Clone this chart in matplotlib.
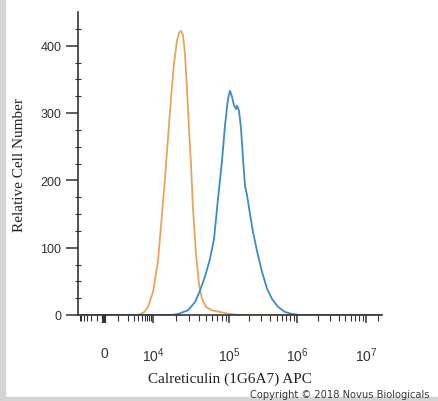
import matplotlib
matplotlib.use("Agg")
import matplotlib.pyplot as plt
from matplotlib.patches import Rectangle
import numpy as np

# histogram traces (fluorescence, cell count)
orange_x = [-4000, 3940, 5730, 7350, 10000, 11640, 13140, 14380, 15750, 17250,
            18890, 20690, 21990, 23360, 24820, 26370, 28020, 29770, 31620,
            33600, 36800, 40300, 44130, 49820, 59750, 76130, 103400, 145100,
            1.7e7]
orange_y = [0, 0, 4, 12, 34, 80, 150, 202, 262, 321,
            373, 407, 419, 422, 416, 388, 336, 277, 225,
            158, 91, 46, 24, 12, 7, 4.5, 1.5, 0,
            0]

blue_x = [-4000, 17780, 21330, 28910, 35700, 41500, 48300, 56200, 63500, 71600,
          80900, 88500, 97000, 103400, 110700, 118500, 126800, 131200, 140400,
          150200, 160600, 171800, 184000, 203700, 225600, 258200, 305800,
          362200, 428700, 525700, 666800, 843300, 1.105e6, 1.7e7]
blue_y = [0, 0, 1.5, 7, 19, 36, 57, 83, 113, 172,
          229, 281, 321, 333, 324, 311, 306, 311, 303,
          277, 232, 192, 178, 150, 123, 95, 64,
          39, 24, 12, 4.5, 1.5, 0, 0]

x_major = [0, 1e4, 1e5, 1e6, 1e7]
x_major_labels = ["0", "$10^{4}$", "$10^{5}$", "$10^{6}$", "$10^{7}$"]
y_major = [0, 100, 200, 300, 400]

# biexponential-like display axis
W = 1000.0
anchor_vals = np.array([-1e6, -4000, 0, 1e4, 1e5, 1e6, 1e7, 1.7e7, 1e9])
anchor_pos = np.array([-120, -26, 0, 49, 125, 193, 262, 278, 400])
anchor_a = np.arcsinh(anchor_vals / W)


def forward(x):
    return np.interp(np.arcsinh(np.asarray(x, dtype=float) / W), anchor_a, anchor_pos)


def inverse(p):
    return W * np.sinh(np.interp(np.asarray(p, dtype=float), anchor_pos, anchor_a))


plt.rcParams["mathtext.fontset"] = "custom"
plt.rcParams["mathtext.rm"] = "Liberation Sans"
plt.rcParams["mathtext.default"] = "regular"

fig = plt.figure(figsize=(4.38, 4.02), dpi=100, facecolor="w")
ax = fig.add_axes([78 / 438, 86 / 402, 304 / 438, 303 / 402])

ax.plot(orange_x, orange_y, color="#E9A45C", lw=1.3, solid_joinstyle="round")
ax.plot(blue_x, blue_y, color="#3C8CC4", lw=1.3, solid_joinstyle="round")

ax.set_xscale("function", functions=(forward, inverse))
ax.set_xlim(-4000, 1.7e7)
ax.set_ylim(0, 450)

for s in ["top", "right"]:
    ax.spines[s].set_visible(False)
for s in ["left", "bottom"]:
    ax.spines[s].set_color("#333333")
    ax.spines[s].set_linewidth(1.2)

ax.set_yticks(y_major)
ax.set_yticks(np.arange(25, 450, 25), minor=True)
ax.tick_params(axis="y", which="major", length=9, width=1.1, pad=3,
               labelsize=9, colors="#333333")
ax.tick_params(axis="y", which="minor", direction="inout", length=5, width=0.8,
               colors="#333333")

x_minor = [-3500, -3000, -2400, -1800, -1200, -600]
x_minor += [k * 1000 for k in range(1, 10)]
for d in [1e4, 1e5, 1e6]:
    x_minor += [k * d for k in range(2, 10)]
x_minor += [1.5e7]
ax.set_xticks(x_major)
ax.set_xticklabels(x_major_labels)
ax.set_xticks(x_minor, minor=True)
ax.tick_params(axis="x", which="major", length=6, width=1.1, pad=16,
               labelsize=10, colors="#333333")
ax.tick_params(axis="x", which="minor", length=4, width=0.8, colors="#333333")
ax.xaxis.get_major_ticks()[0].tick1line.set_markeredgewidth(3)

for lab in ax.get_xticklabels() + ax.get_yticklabels():
    lab.set_family("Liberation Sans")
    lab.set_color("#333333")

ax.set_xlabel("Calreticulin (1G6A7) APC", family="Liberation Serif",
              fontsize=11, color="#222222")
ax.set_ylabel("Relative Cell Number", family="Liberation Serif",
              fontsize=11, color="#222222")
ax.xaxis.set_label_coords(0.5, -0.185)
ax.yaxis.set_label_coords(-0.17, 0.5)

fig.text(250 / 438, 1 - 395 / 402, "Copyright \u00a9 2018 Novus Biologicals",
         fontsize=7.1, color="#3a3a3a", family="DejaVu Sans", va="center")

# grey frame edges of the screenshot
fig.patches.append(Rectangle((0, 0), 5 / 438, 1, transform=fig.transFigure,
                             color="#D4D4D4", zorder=0))
fig.patches.append(Rectangle((0, 0), 1, 4 / 402, transform=fig.transFigure,
                             color="#D4D4D4", zorder=0))

plt.savefig("out.png", dpi=100)
